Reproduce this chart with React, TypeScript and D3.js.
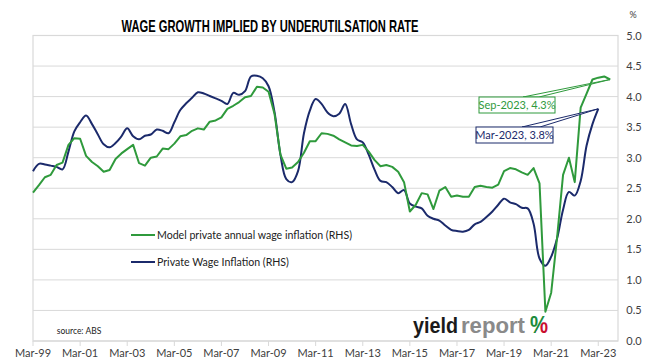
import React from 'react';
import * as d3 from 'd3';

// quarterly observations, first one is Mar-99
const FIRST_QUARTER = new Date(1999, 2, 1);

const modelWage = [
  2.43, 2.55, 2.68, 2.72, 2.88, 2.92, 3.21, 3.32, 3.31, 3.03,
  2.93, 2.86, 2.77, 2.80, 2.98, 3.07, 3.14, 3.21, 2.91, 2.87,
  3.00, 3.02, 3.15, 3.14, 3.23, 3.35, 3.37, 3.44, 3.48, 3.46,
  3.59, 3.61, 3.66, 3.80, 3.85, 3.91, 3.99, 4.01, 4.16, 4.15,
  4.08, 3.72, 3.05, 2.82, 2.84, 2.93, 3.08, 3.27, 3.27, 3.40,
  3.39, 3.36, 3.30, 3.25, 3.20, 3.19, 3.21, 3.10, 2.96, 2.86,
  2.88, 2.85, 2.77, 2.60, 2.12, 2.23, 2.42, 2.40, 2.16, 2.46,
  2.52, 2.36, 2.38, 2.36, 2.36, 2.52, 2.54, 2.52, 2.51, 2.56,
  2.78, 2.83, 2.81, 2.76, 2.72, 2.83, 2.58, 0.48, 0.79, 1.70,
  2.72, 3.00, 2.60, 3.82, 4.05, 4.28, 4.31, 4.33, 4.28,
];

const privateWage = [
  2.78, 2.90, 2.89, 2.87, 2.85, 2.81, 3.10, 3.43, 3.58, 3.69,
  3.55, 3.38, 3.22, 3.17, 3.24, 3.35, 3.48, 3.35, 3.30, 3.36,
  3.38, 3.46, 3.44, 3.40, 3.58, 3.78, 3.89, 3.98, 4.07, 4.05,
  4.01, 3.97, 3.93, 3.88, 4.06, 4.03, 4.09, 4.33, 4.34, 4.30,
  4.17, 3.75, 3.05, 2.65, 2.60, 2.78, 3.40, 3.77, 3.96, 3.88,
  3.74, 3.68, 3.72, 3.88, 3.55, 3.30, 3.25, 3.05, 2.80, 2.62,
  2.60, 2.52, 2.42, 2.47, 2.25, 2.20, 2.17, 2.05, 2.00, 1.97,
  1.89, 1.82, 1.80, 1.79, 1.82, 1.91, 1.95, 2.03, 2.12, 2.23,
  2.33, 2.27, 2.24, 2.18, 2.17, 1.92, 1.35, 1.23, 1.38, 1.68,
  2.15, 2.44, 2.38, 2.62, 3.20, 3.55, 3.80,
];

const xTickLabels = ['Mar-99', 'Mar-01', 'Mar-03', 'Mar-05', 'Mar-07', 'Mar-09', 'Mar-11',
  'Mar-13', 'Mar-15', 'Mar-17', 'Mar-19', 'Mar-21', 'Mar-23'];
const yTicks = [0, 0.5, 1, 1.5, 2, 2.5, 3, 3.5, 4, 4.5, 5];

const seriesNames = ['Model private annual wage inflation (RHS)', 'Private Wage Inflation (RHS)'];
const callouts = ['Sep-2023, 4.3%', 'Mar-2023, 3.8%'];

const GREEN = '#2f9a3c';
const NAVY = '#1b2a6b';
const GRID = '#d9d9d9';
const TXT = '#404040';
const FONT = 'Lato, "Open Sans", sans-serif';
const NARROW = '"Liberation Sans Narrow", sans-serif';

const W = 662, H = 363;
const m = { left: 33, right: 44, top: 35.5, bottom: 22 };

const qDate = (i: number) => d3.timeMonth.offset(FIRST_QUARTER, i * 3);
const parseTick = d3.timeParse('%b-%y');

export default function App() {
  const x = d3.scaleTime()
    .domain([FIRST_QUARTER, new Date(2024, 0, 1)])
    .range([m.left, W - m.right]);
  const y = d3.scaleLinear().domain([0, 5]).range([H - m.bottom, m.top]);

  const green = d3.line<number>().x((_, i) => x(qDate(i))).y(d => y(d));
  const navy = d3.line<number>().x((_, i) => x(qDate(i))).y(d => y(d)).curve(d3.curveCatmullRom.alpha(0.5));

  const [x0, x1] = x.range();
  const [yb, yt] = y.range();

  // callout tips
  const gi = modelWage.length - 1;
  const bi = privateWage.length - 1;
  const gTip: [number, number] = [x(qDate(gi)), y(modelWage[gi])];
  const bTip: [number, number] = [x(qDate(bi)), y(privateWage[bi])];

  const gBox = { x: 479, y: 97, w: 76, h: 16 };
  const bBox = { x: 476, y: 127, w: 77, h: 16 };

  return (
    <div style={{ position: 'absolute', left: 0, top: 0 }}>
      <svg width={W} height={H} style={{ display: 'block', background: '#fff' }} fontFamily={FONT}>
        <defs>
          <linearGradient id="pctFill" x1="0" y1="0" x2="1" y2="1">
            <stop offset="0.56" stopColor="#1e8a3a" />
            <stop offset="0.56" stopColor="#c8102e" />
          </linearGradient>
        </defs>

        <text x={270} y={32} textAnchor="middle" fontSize={16.5} fontWeight={700} fill="#000"
          fontFamily={NARROW} textLength={297} lengthAdjust="spacingAndGlyphs">
          WAGE GROWTH IMPLIED BY UNDERUTILSATION RATE
        </text>

        {/* gridlines */}
        {yTicks.map(t => (
          <line key={t} x1={x0} x2={x1} y1={y(t)} y2={y(t)} stroke={GRID} strokeWidth={1} />
        ))}
        <rect x={x0} y={yt} width={x1 - x0} height={yb - yt} fill="none" stroke={GRID} strokeWidth={1.2} />

        {/* x axis ticks */}
        {xTickLabels.map(l => {
          const px = x(parseTick(l) as Date);
          return (
            <g key={l}>
              <line x1={px} x2={px} y1={yb} y2={yb + 5} stroke={GRID} />
              <text x={px} y={yb + 16} textAnchor="middle" fontSize={11} fill={TXT}>{l}</text>
            </g>
          );
        })}

        {/* right axis */}
        {yTicks.map(t => (
          <text key={t} x={634} y={y(t) + 4} textAnchor="middle" fontSize={11} fill={TXT}>{d3.format('.1f')(t)}</text>
        ))}
        <text x={633} y={18} textAnchor="middle" fontSize={9} fill={TXT}>%</text>

        {/* series */}
        <path d={navy(privateWage) || ''} fill="none" stroke={NAVY} strokeWidth={2} strokeLinejoin="round" />
        <path d={green(modelWage) || ''} fill="none" stroke={GREEN} strokeWidth={2} strokeLinejoin="round" />

        {/* legend */}
        <line x1={131} x2={155} y1={235} y2={235} stroke={GREEN} strokeWidth={2} />
        <text x={157} y={239} fontSize={10.6} fill="#222">{seriesNames[0]}</text>
        <line x1={131} x2={155} y1={262} y2={262} stroke={NAVY} strokeWidth={2} />
        <text x={157} y={266} fontSize={10.6} fill="#222">{seriesNames[1]}</text>

        <text x={79} y={334} textAnchor="middle" fontSize={8.5} fill="#222">source: ABS</text>

        {/* logo */}
        <text x={413} y={333} fontSize={22} fontWeight={700} fontFamily={NARROW} fill="#1a1a1a"
          textLength={45} lengthAdjust="spacingAndGlyphs">yield</text>
        <text x={461} y={333} fontSize={22} fontWeight={700} fontFamily={NARROW} fill="#8a8a8a"
          textLength={64} lengthAdjust="spacingAndGlyphs">report</text>
        <text x={530} y={333} fontSize={24} fontWeight={700} fill="url(#pctFill)" fontFamily={NARROW}
          textLength={18} lengthAdjust="spacingAndGlyphs">%</text>

        {/* callouts */}
        <polygon points={`${gBox.x + 44},${gBox.y} ${gBox.x + 60},${gBox.y} ${gTip[0]},${gTip[1]}`}
          fill="#fff" stroke={GREEN} strokeWidth={1} />
        <rect x={gBox.x} y={gBox.y} width={gBox.w} height={gBox.h} fill="#fff" stroke={GREEN} strokeWidth={1} />
        <text x={gBox.x + gBox.w / 2} y={gBox.y + 12} textAnchor="middle" fontSize={11} fill={GREEN}>{callouts[0]}</text>

        <polygon points={`${bBox.x + 46},${bBox.y} ${bBox.x + 64},${bBox.y} ${bTip[0]},${bTip[1]}`}
          fill="#fff" stroke={NAVY} strokeWidth={1} />
        <rect x={bBox.x} y={bBox.y} width={bBox.w} height={bBox.h} fill="#fff" stroke={NAVY} strokeWidth={1} />
        <text x={bBox.x + bBox.w / 2} y={bBox.y + 12} textAnchor="middle" fontSize={11} fill={NAVY}>{callouts[1]}</text>
      </svg>
    </div>
  );
}
